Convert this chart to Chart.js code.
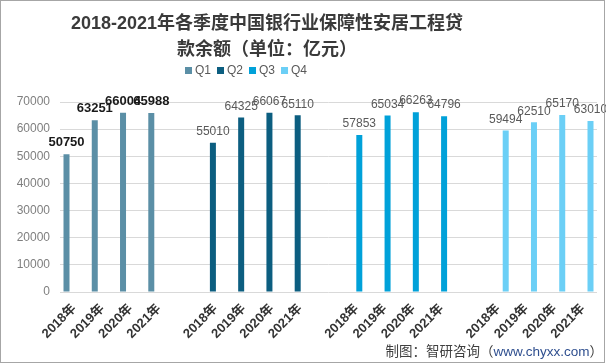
<!DOCTYPE html>
<html>
<head>
<meta charset="utf-8">
<script src="https://cdn.jsdelivr.net/npm/chart.js@4/dist/chart.umd.min.js"></script>
<style>
  html, body { margin: 0; padding: 0; background: #fff; }
  #wrap { width: 606px; height: 364px; }
</style>
</head>
<body>
<div id="wrap"><canvas id="loan-chart" width="606" height="364"></canvas></div>
<script>
const titleLines = ["2018-2021年各季度中国银行业保障性安居工程贷", "款余额（单位：亿元）"];
const years = ["2018年", "2019年", "2020年", "2021年"];
const quarters = ["Q1", "Q2", "Q3", "Q4"];
const q1Values = [50750, 63251, 66004, 65988];
const q2Values = [55010, 64325, 66067, 65110];
const q3Values = [57853, 65034, 66263, 64796];
const q4Values = [59494, 62510, 65170, 63010];
const yTicks = [0, 10000, 20000, 30000, 40000, 50000, 60000, 70000];

const seriesValues = [q1Values, q2Values, q3Values, q4Values];
const colors = ["#5b8fa6", "#0c5e80", "#00a1d9", "#6bcff6"];
const FONT = "'Liberation Sans', 'Noto Sans CJK SC', sans-serif";

// 4 groups of years, one empty slot between groups
const labels = [];
quarters.forEach((q, g) => {
  years.forEach((y) => labels.push(y));
  if (g < quarters.length - 1) labels.push("");
});

const datasets = quarters.map((q, g) => {
  const data = labels.map(() => null);
  seriesValues[g].forEach((v, i) => {
    data[g * (years.length + 1) + i] = v;
  });
  return {
    label: q,
    data: data,
    backgroundColor: colors[g],
    categoryPercentage: 0.72,
    barPercentage: 1.18,
  };
});

const decorPlugin = {
  id: "decor",
  beforeDraw(chart) {
    const ctx = chart.ctx;
    ctx.save();
    ctx.fillStyle = "#fff";
    ctx.fillRect(0, 0, chart.width, chart.height);
    ctx.restore();
  },
  afterDatasetsDraw(chart) {
    const ctx = chart.ctx;
    ctx.save();
    ctx.textAlign = "center";
    ctx.textBaseline = "bottom";
    chart.data.datasets.forEach((ds, di) => {
      const meta = chart.getDatasetMeta(di);
      if (di === 0) {
        ctx.font = "bold 13px " + FONT;
        ctx.fillStyle = "#1a1a1a";
      } else {
        ctx.font = "12px " + FONT;
        ctx.fillStyle = "#595959";
      }
      meta.data.forEach((bar, i) => {
        const v = ds.data[i];
        if (v === null) return;
        ctx.fillText(String(v), bar.x, bar.y - 5);
      });
    });
    ctx.restore();
  },
  afterDraw(chart) {
    const ctx = chart.ctx;
    ctx.save();
    // title
    ctx.fillStyle = "#3a3a3a";
    ctx.font = "bold 18px " + FONT;
    ctx.textAlign = "center";
    ctx.textBaseline = "middle";
    ctx.fillText(titleLines[0], 267, 24);
    ctx.fillText(titleLines[1], 267, 50);

    // legend
    ctx.font = "12px " + FONT;
    ctx.textAlign = "left";
    let x = 185;
    chart.data.datasets.forEach((ds) => {
      ctx.fillStyle = ds.backgroundColor;
      ctx.fillRect(x, 67, 7, 7);
      ctx.fillStyle = "#595959";
      ctx.fillText(ds.label, x + 10, 71);
      x += 10 + ctx.measureText(ds.label).width + 6;
    });

    // source note
    ctx.font = "13.5px " + FONT;
    ctx.textBaseline = "middle";
    const parts = [["制图：智研咨询（", "#404040"], ["www.chyxx.com", "#2f4f8f"], ["）", "#404040"]];
    let total = 0;
    parts.forEach((p) => (total += ctx.measureText(p[0]).width));
    let sx = 603 - total;
    parts.forEach((p) => {
      ctx.fillStyle = p[1];
      ctx.fillText(p[0], sx, 352);
      sx += ctx.measureText(p[0]).width;
    });

    // frame
    ctx.strokeStyle = "#a6a6a6";
    ctx.lineWidth = 1;
    ctx.strokeRect(0.5, 0.5, 604, 362);
    ctx.restore();
  },
};

const ctx = document.getElementById("loan-chart").getContext("2d");
new Chart(ctx, {
  type: "bar",
  data: { labels: labels, datasets: datasets },
  plugins: [decorPlugin],
  options: {
    responsive: false,
    animation: false,
    layout: { padding: { top: 102, right: 9, left: 0, bottom: 0 } },
    plugins: {
      legend: { display: false },
      title: { display: false },
      tooltip: { enabled: false },
    },
    scales: {
      x: {
        grid: { display: false, drawTicks: false },
        border: { display: false },
        ticks: {
          autoSkip: false,
          maxRotation: 45,
          minRotation: 45,
          padding: 9,
          color: "#333333",
          font: { family: FONT, size: 13, weight: "bold" },
        },
        afterFit(scale) {
          scale.height = 72;
        },
      },
      y: {
        min: 0,
        max: 70000,
        afterBuildTicks(scale) {
          scale.ticks = yTicks.map((v) => ({ value: v }));
        },
        grid: { color: "#d9d9d9", drawTicks: false },
        border: { display: false },
        ticks: {
          padding: 10,
          color: "#7f7f7f",
          font: { family: FONT, size: 12 },
          callback: (v) => String(v),
        },
        afterFit(scale) {
          scale.width = 60;
        },
      },
    },
  },
});
</script>
</body>
</html>
